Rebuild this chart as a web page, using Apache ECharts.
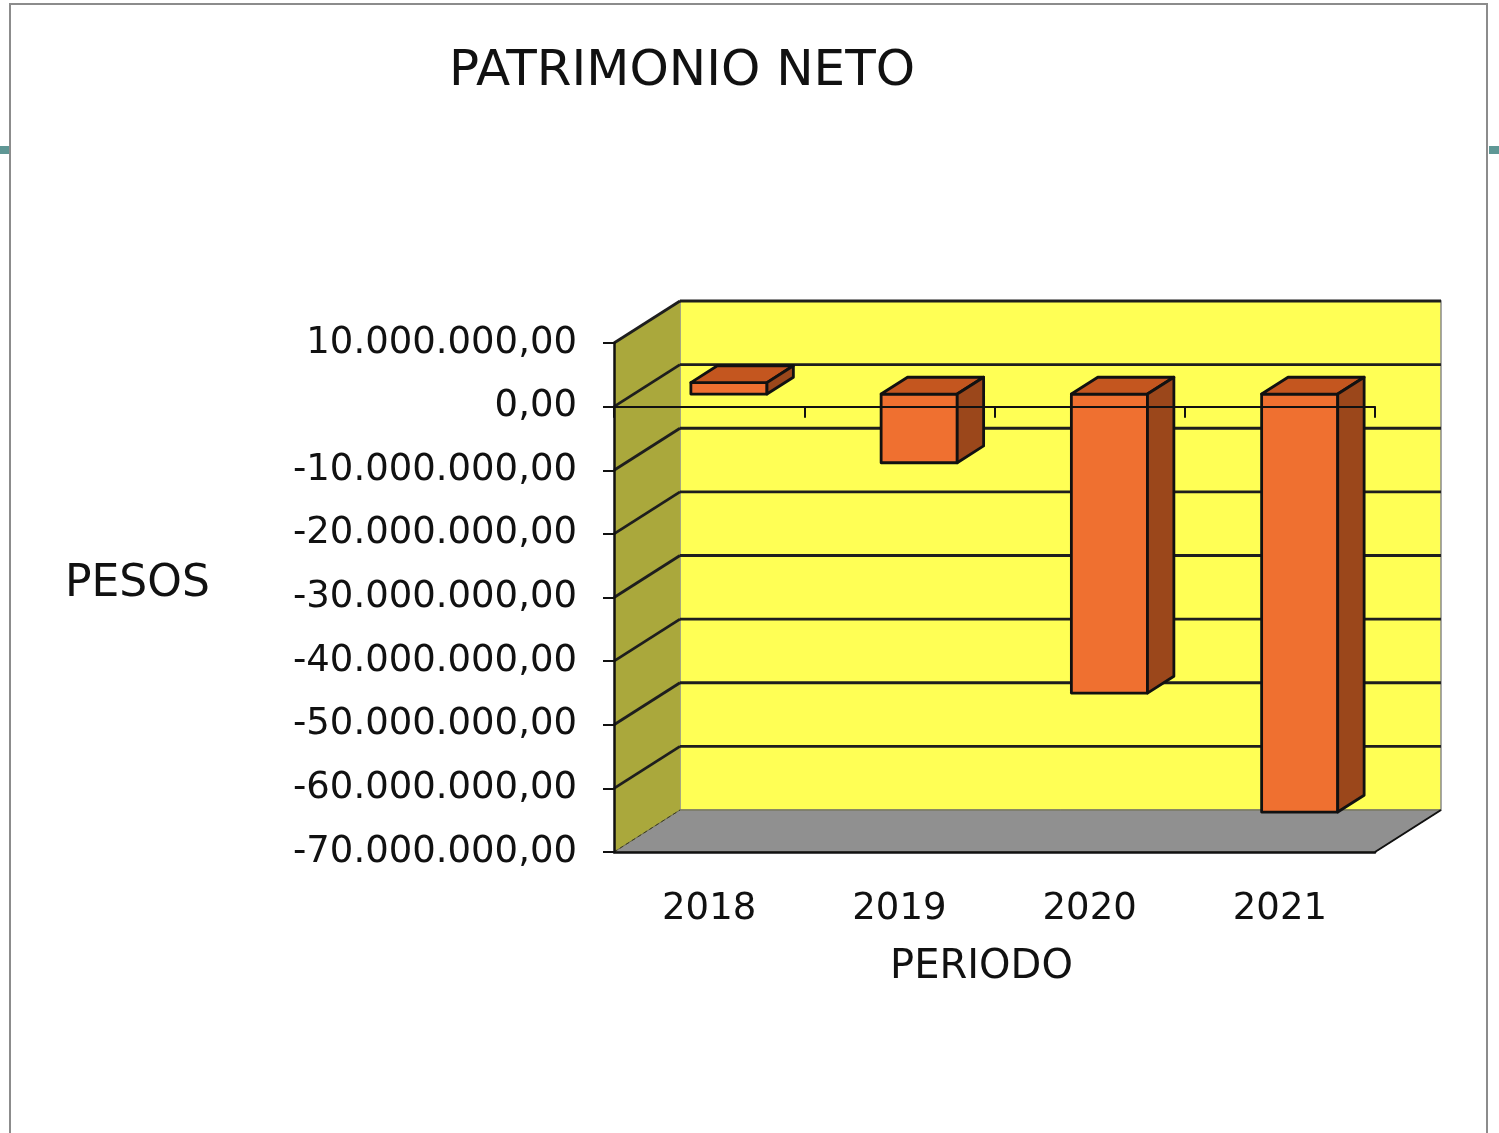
<!DOCTYPE html>
<html>
<head>
<meta charset="utf-8">
<title>Patrimonio neto</title>
<script src="https://cdn.jsdelivr.net/npm/echarts@6/dist/echarts.min.js"></script>
<style>
html, body { margin: 0; padding: 0; background: #fff; }
#chart { width: 1499px; height: 1133px; }
</style>
</head>
<body>
<div id="chart"></div>
<script>
// datos del grafico
var periodos = ['2018', '2019', '2020', '2021'];
var patrimonio = [1800000, -10800000, -47000000, -65700000];
var ticksPesos = [10000000, 0, -10000000, -20000000, -30000000, -40000000, -50000000, -60000000, -70000000];

// desplazamiento de profundidad (efecto 3D)
var DX = 66, DY = -42;
var FONT = 'DejaVu Sans';

function formatoPesos(v) {
	var s = Math.abs(v).toFixed(0).replace(/\B(?=(\d{3})+(?!\d))/g, '.');
	return (v < 0 ? '-' : '') + s + ',00';
}

function renderMuros(params, api) {
	var cs = params.coordSys;
	var x0 = cs.x, x1 = cs.x + cs.width, y0 = cs.y, y1 = cs.y + cs.height;
	return {
		type : 'group',
		children : [ {
			type : 'rect',
			shape : { x : x0 + DX, y : y0 + DY, width : x1 - x0, height : y1 - y0 },
			style : { fill : '#ffff55', stroke : '#8a8a8a', lineWidth : 1.5 }
		}, {
			type : 'polygon',
			shape : { points : [ [x0, y0], [x0 + DX, y0 + DY], [x0 + DX, y1 + DY], [x0, y1] ] },
			style : { fill : '#aaa83c' }
		}, {
			type : 'polygon',
			shape : { points : [ [x0, y1], [x0 + DX, y1 + DY], [x1 + DX, y1 + DY], [x1, y1] ] },
			style : { fill : '#909090', stroke : '#6d6d4a', lineWidth : 1 }
		}, {
			type : 'line',
			shape : { x1 : x1, y1 : y1, x2 : x1 + DX, y2 : y1 + DY },
			style : { stroke : '#111', lineWidth : 2 }
		}, {
			type : 'line',
			shape : { x1 : x0, y1 : y1, x2 : x0 + DX, y2 : y1 + DY },
			style : { stroke : '#3c3c20', lineWidth : 1, lineDash : [4, 3] }
		} ]
	};
}

function renderLineas(params, api) {
	var cs = params.coordSys;
	var x0 = cs.x, x1 = cs.x + cs.width;
	var y = api.coord([0, api.value(1)])[1];
	return {
		type : 'group',
		children : [ {
			type : 'line',
			shape : { x1 : x0 + DX, y1 : y + DY, x2 : x1 + DX, y2 : y + DY },
			style : { stroke : '#1e1e1e', lineWidth : 2.8 }
		}, {
			type : 'line',
			shape : { x1 : x0, y1 : y, x2 : x0 + DX, y2 : y + DY },
			style : { stroke : '#1e1e1e', lineWidth : 2.8 }
		} ]
	};
}

function renderBarra(params, api) {
	var i = api.value(0), v = api.value(1);
	var c0 = api.coord([i, 0]), c1 = api.coord([i, v]);
	var w = api.size([1, 0])[0] * 0.4;
	var fx = DX * 0.3, fy = DY * 0.3, bx = DX * 0.4, by = DY * 0.4;
	var left = c0[0] - w / 2 + fx, right = left + w;
	var top = Math.min(c0[1], c1[1]) + fy, bot = Math.max(c0[1], c1[1]) + fy;
	var borde = { stroke : '#111', lineWidth : 2.8, lineJoin : 'round' };
	return {
		type : 'group',
		children : [ {
			type : 'polygon',
			shape : { points : [ [left, top], [right, top], [right, bot], [left, bot] ] },
			style : Object.assign({ fill : '#ef7030' }, borde)
		}, {
			type : 'polygon',
			shape : { points : [ [left, top], [left + bx, top + by], [right + bx, top + by], [right, top] ] },
			style : Object.assign({ fill : '#c4561f' }, borde)
		}, {
			type : 'polygon',
			shape : { points : [ [right, top], [right + bx, top + by], [right + bx, bot + by], [right, bot] ] },
			style : Object.assign({ fill : '#9b471b' }, borde)
		} ]
	};
}

var myChart = echarts.init(document.getElementById('chart'));

var option = {
	backgroundColor : '#fff',
	animation : false,
	title : {
		text : 'PATRIMONIO NETO',
		left : 682,
		top : 47,
		padding : 0,
		textAlign : 'center',
		textStyle : { fontFamily : FONT, fontSize : 50, fontWeight : 'normal', color : '#111' }
	},
	graphic : [ {
		type : 'rect',
		shape : { x : 10, y : 4, width : 1477, height : 1140 },
		style : { fill : 'none', stroke : '#8c8c8c', lineWidth : 2 },
		z : -10
	}, {
		type : 'rect',
		shape : { x : 0, y : 146, width : 9, height : 8 },
		style : { fill : '#5f9795' }
	}, {
		type : 'rect',
		shape : { x : 1489, y : 146, width : 10, height : 8 },
		style : { fill : '#5f9795' }
	}, {
		type : 'text',
		left : 65,
		top : 563,
		style : { text : 'PESOS', fontFamily : FONT, fontSize : 44, fill : '#111' }
	} ],
	grid : {
		left : 614,
		right : 124,
		top : 343,
		bottom : 281,
		outerBoundsMode : 'none'
	},
	xAxis : [ {
		type : 'category',
		data : periodos,
		position : 'bottom',
		name : 'PERIODO',
		nameLocation : 'middle',
		nameGap : 96,
		nameTextStyle : { fontFamily : FONT, fontSize : 40, color : '#111', padding : [0, 26, 0, 0] },
		axisLine : { onZero : false, lineStyle : { color : '#111', width : 2.5 } },
		axisTick : { show : false },
		axisLabel : { fontFamily : FONT, fontSize : 37, color : '#111', margin : 39 },
		splitLine : { show : false },
		z : 4
	}, {
		type : 'category',
		data : periodos,
		position : 'top',
		axisLine : { onZero : true, lineStyle : { color : '#111', width : 2.2 } },
		axisTick : { show : true, inside : true, length : 11, lineStyle : { color : '#111', width : 2 } },
		axisLabel : { show : false },
		splitLine : { show : false },
		z : 4
	} ],
	yAxis : {
		type : 'value',
		min : -70000000,
		max : 10000000,
		interval : 10000000,
		axisLine : { show : true, lineStyle : { color : '#111', width : 2.5 } },
		axisTick : { show : true, length : 11, lineStyle : { color : '#111', width : 2 } },
		axisLabel : { fontFamily : FONT, fontSize : 37, color : '#111', margin : 37, formatter : formatoPesos },
		splitLine : { show : false },
		z : 4
	},
	series : [ {
		name : 'muros',
		type : 'custom',
		renderItem : renderMuros,
		data : [ [0, 0] ],
		clip : false,
		silent : true,
		z : 1
	}, {
		name : 'lineas',
		type : 'custom',
		renderItem : renderLineas,
		data : ticksPesos.slice(0, ticksPesos.length - 1).map(function(v) { return [0, v]; }),
		clip : false,
		silent : true,
		z : 2
	}, {
		name : 'Patrimonio neto',
		type : 'custom',
		renderItem : renderBarra,
		encode : { x : 0, y : 1 },
		data : patrimonio.map(function(v, i) { return [i, v]; }),
		clip : false,
		z : 3
	} ]
};
myChart.setOption(option, true);
</script>
</body>
</html>
